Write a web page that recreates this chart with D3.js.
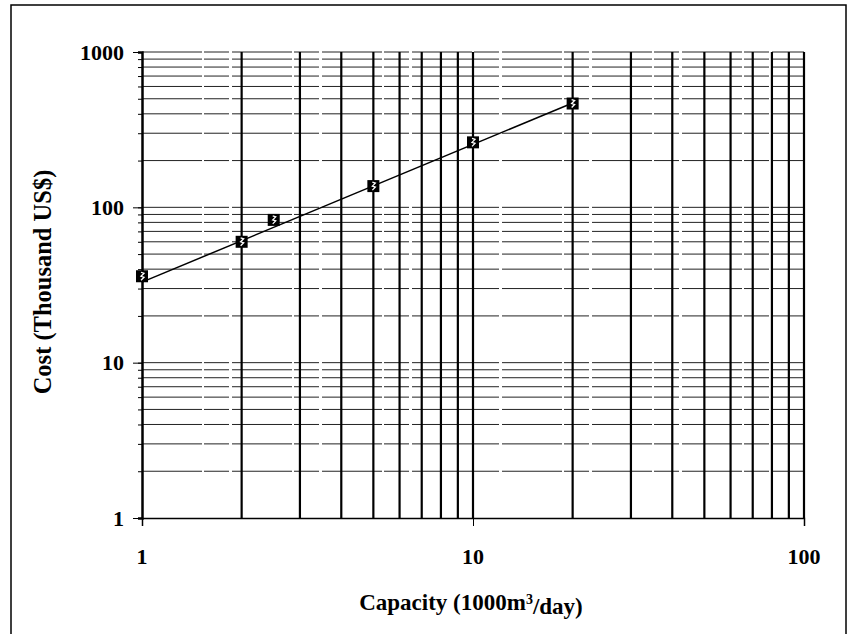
<html>
<head>
<style>
  body { margin: 0; background: #fff; }
  text { font-family: "Liberation Serif", "Times New Roman", serif; font-weight: bold; fill: #000; }
</style>
</head>
<body>
<svg id="chart" width="849" height="634"></svg>
<script src="https://cdn.jsdelivr.net/npm/d3@7"></script>
<script>
// data
const capacity = [1, 2, 2.5, 5, 10, 20]
const cost = [36, 60, 83, 137, 262, 466]
// fitted power-law line (end points)
const fitX = [1, 20]
const fitY = [33, 470]
const xTicks = [1, 10, 100]
const yTicks = [1, 10, 100, 1000]

let svg = d3.select("#chart")

// outer frame
svg.append("rect")
    .attr("x", 11).attr("y", 5)
    .attr("width", 835).attr("height", 640)
    .attr("fill", "none").attr("stroke", "#000").attr("stroke-width", 1.5)

let x = d3.scaleLog().domain([1, 100]).range([142, 804])
let y = d3.scaleLog().domain([1, 1000]).range([518, 52])

// minor values for grid
let xGrid = []
for (let d of [1, 10]) for (let k = 2; k <= 10; k++) xGrid.push(d * k)
let yGrid = []
for (let d of [1, 10, 100]) for (let k = 2; k <= 10; k++) yGrid.push(d * k)

let grid = svg.append("g")
grid.selectAll("line.h")
    .data(yGrid)
    .enter().append("line")
    .attr("class", "h")
    .attr("x1", x(1)).attr("x2", x(100))
    .attr("y1", d => y(d)).attr("y2", d => y(d))
    .attr("stroke", "#222").attr("stroke-width", 1)
    .attr("stroke-dasharray", "60,2,25,3")

grid.selectAll("line.v")
    .data(xGrid)
    .enter().append("line")
    .attr("class", "v")
    .attr("x1", d => x(d)).attr("x2", d => x(d))
    .attr("y1", y(1)).attr("y2", y(1000))
    .attr("stroke", "#000").attr("stroke-width", 2.2)

// axes
let yAxis = svg.append("g").attr("transform", `translate(${x(1)},0)`)
    .call(d3.axisLeft(y).tickValues(yGrid.concat([1])).tickSize(4).tickFormat(""))
yAxis.select(".domain").attr("stroke-width", 2.5)
yAxis.selectAll(".tick line").attr("stroke-width", 1)
svg.append("g").attr("transform", `translate(${x(1)},0)`)
    .call(d3.axisLeft(y).tickValues(yTicks).tickSize(9).tickFormat(""))
    .select(".domain").remove()

let xAxis = svg.append("g").attr("transform", `translate(0,${y(1)})`)
    .call(d3.axisBottom(x).tickValues(xTicks).tickSize(8).tickFormat(""))
xAxis.select(".domain").attr("stroke-width", 1.5)

// tick labels
svg.selectAll("text.yt")
    .data(yTicks)
    .enter().append("text")
    .attr("class", "yt")
    .attr("x", 124).attr("y", d => y(d))
    .attr("dy", "0.35em")
    .attr("text-anchor", "end")
    .attr("font-size", 22)
    .text(d => d)

svg.selectAll("text.xt")
    .data(xTicks)
    .enter().append("text")
    .attr("class", "xt")
    .attr("x", d => x(d)).attr("y", 556)
    .attr("dy", "0.35em")
    .attr("text-anchor", "middle")
    .attr("font-size", 22)
    .text(d => d)

// axis titles
let xt = svg.append("text")
    .attr("x", 471).attr("y", 602)
    .attr("dy", "0.35em")
    .attr("text-anchor", "middle")
    .attr("font-size", 23)
xt.append("tspan").text("Capacity (1000m")
xt.append("tspan").attr("dy", "-0.45em").attr("font-size", 14).text("3")
xt.append("tspan").attr("dy", "0.45em").text("/day)")

svg.append("text")
    .attr("transform", "translate(42,282) rotate(-90)")
    .attr("dy", "0.35em")
    .attr("text-anchor", "middle")
    .attr("font-size", 24.5)
    .text("Cost (Thousand US$)")

// fit line
svg.append("path")
    .datum(fitX.map((d, i) => [d, fitY[i]]))
    .attr("d", d3.line().x(d => x(d[0])).y(d => y(d[1])))
    .attr("fill", "none").attr("stroke", "#000").attr("stroke-width", 1.5)

// markers
let marks = svg.append("g").selectAll("g")
    .data(capacity.map((d, i) => [d, cost[i]]))
    .enter().append("g")
    .attr("transform", d => `translate(${x(d[0])},${y(d[1])})`)
marks.append("rect")
    .attr("x", -6).attr("y", -6).attr("width", 12).attr("height", 12)
    .attr("fill", "#000")
marks.append("path")
    .attr("d", "M-1,-4 L2,-3 L-1,0 L2,1 L-1,4")
    .attr("fill", "none").attr("stroke", "#fff").attr("stroke-width", 1.3)
</script>
</body>
</html>
